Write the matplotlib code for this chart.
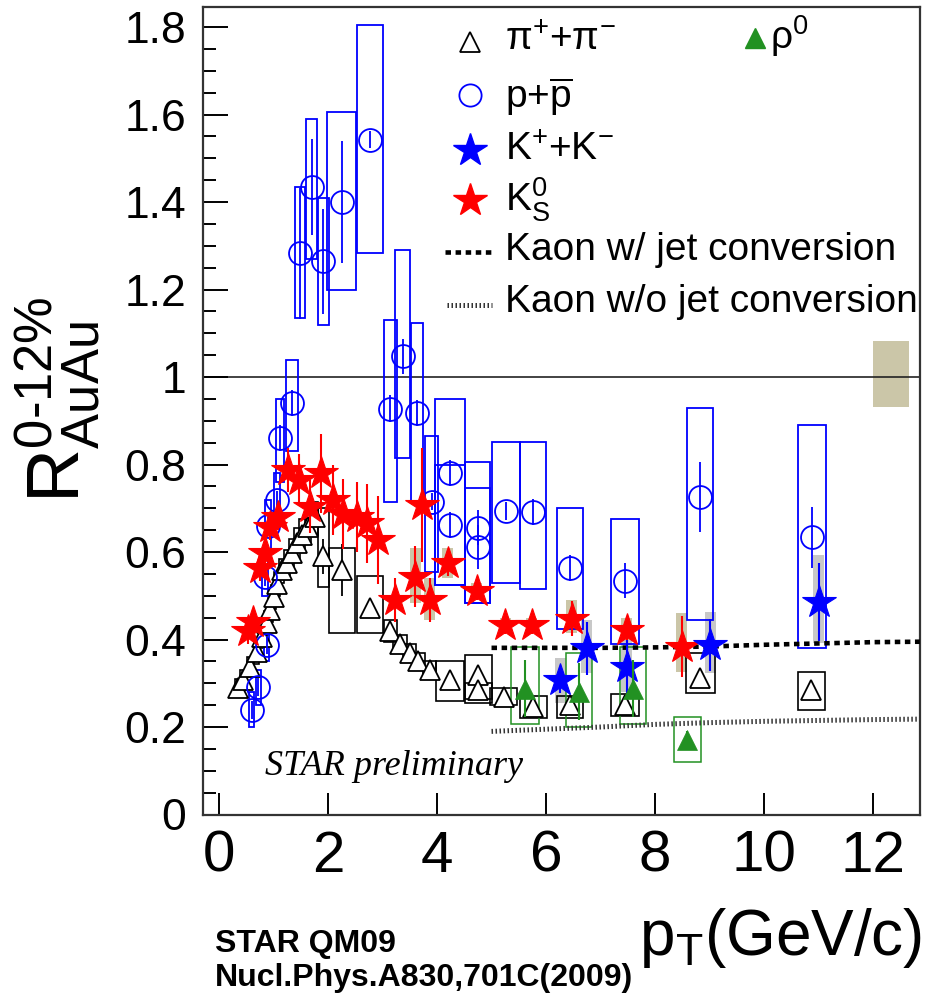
import matplotlib
matplotlib.use("Agg")
import matplotlib.pyplot as plt
import numpy as np
from matplotlib.patches import Rectangle
from matplotlib.ticker import MultipleLocator, FuncFormatter

plt.rcParams["font.family"] = ["Liberation Sans", "DejaVu Sans"]
plt.rcParams["mathtext.fontset"] = "custom"
plt.rcParams["mathtext.rm"] = "Liberation Sans"
plt.rcParams["mathtext.it"] = "Liberation Sans:italic"
plt.rcParams["mathtext.bf"] = "Liberation Sans:bold"

# ── Data ───────────────────────────────────────────────────────────────
# pi+ + pi-  (pT, R, stat err, sys low, sys high, sys half-width)
pi_pt = [0.35, 0.44, 0.57, 0.69, 0.78, 0.875, 0.94, 1.00, 1.06, 1.15, 1.25, 1.33,
         1.43, 1.52, 1.64, 1.76, 1.91, 2.25, 2.77, 3.14, 3.32, 3.50, 3.66, 3.87,
         4.24, 4.76, 4.76, 5.22, 5.77, 6.44, 7.45, 8.83, 10.87]
pi_r = [0.290, 0.307, 0.338, 0.372, 0.406, 0.437, 0.467, 0.498, 0.528, 0.559, 0.574, 0.597,
        0.620, 0.639, 0.658, 0.680, 0.590, 0.559, 0.471, 0.420, 0.390, 0.370, 0.350, 0.330,
        0.307, 0.319, 0.285, 0.269, 0.246, 0.250, 0.250, 0.311, 0.285]
pi_err = [0.01, 0.01, 0.01, 0.01, 0.01, 0.01, 0.01, 0.01, 0.01, 0.01, 0.01, 0.01,
          0.01, 0.01, 0.02, 0.02, 0.04, 0.06, 0.02, 0.01, 0.01, 0.01, 0.01, 0.01,
          0.01, 0.01, 0.01, 0.01, 0.01, 0.01, 0.01, 0.01, 0.01]
pi_lo = [0.27, 0.285, 0.315, 0.345, 0.380, 0.410, 0.440, 0.470, 0.500, 0.530, 0.545, 0.565,
         0.585, 0.605, 0.620, 0.640, 0.520, 0.415, 0.415, 0.395, 0.370, 0.350, 0.330, 0.310,
         0.260, 0.255, 0.265, 0.250, 0.220, 0.220, 0.225, 0.278, 0.239]
pi_hi = [0.31, 0.330, 0.360, 0.395, 0.430, 0.465, 0.495, 0.525, 0.555, 0.585, 0.605, 0.630,
         0.655, 0.675, 0.700, 0.715, 0.700, 0.610, 0.545, 0.445, 0.410, 0.390, 0.370, 0.350,
         0.350, 0.365, 0.300, 0.290, 0.270, 0.270, 0.275, 0.370, 0.326]
pi_hw = [0.05, 0.05, 0.05, 0.05, 0.05, 0.05, 0.05, 0.05, 0.05, 0.05, 0.05, 0.05,
         0.05, 0.05, 0.05, 0.05, 0.10, 0.24, 0.24, 0.12, 0.12, 0.12, 0.12, 0.12,
         0.25, 0.25, 0.25, 0.25, 0.24, 0.24, 0.25, 0.27, 0.25]

# p + pbar
p_pt = [0.60, 0.72, 0.84, 0.875, 0.90, 1.06, 1.12, 1.33, 1.49, 1.70, 1.91, 2.25, 2.77,
        3.14, 3.37, 3.63, 3.90, 4.24, 4.24, 4.75, 4.75, 5.27, 5.76, 6.44, 7.45, 8.82, 10.88]
p_r = [0.239, 0.292, 0.543, 0.387, 0.660, 0.720, 0.860, 0.940, 1.283, 1.435, 1.265, 1.400, 1.543,
       0.928, 1.048, 0.917, 0.715, 0.780, 0.662, 0.655, 0.612, 0.694, 0.692, 0.564, 0.534, 0.726, 0.634]
p_err = [0.02, 0.02, 0.02, 0.02, 0.02, 0.02, 0.03, 0.03, 0.15, 0.11, 0.12, 0.14, 0.02,
         0.03, 0.04, 0.03, 0.02, 0.03, 0.03, 0.04, 0.05, 0.02, 0.03, 0.03, 0.04, 0.08, 0.07]
p_lo = [0.20, 0.25, 0.50, 0.35, 0.60, 0.66, 0.76, 0.83, 1.134, 1.27, 1.12, 1.20, 1.283,
        0.714, 0.815, 0.712, 0.555, 0.525, 0.525, 0.483, 0.483, 0.53, 0.515, 0.423, 0.39, 0.445, 0.38]
p_hi = [0.28, 0.33, 0.59, 0.43, 0.72, 0.78, 0.95, 1.04, 1.434, 1.59, 1.41, 1.606, 1.805,
        1.13, 1.29, 1.124, 0.865, 0.95, 0.80, 0.805, 0.746, 0.852, 0.852, 0.701, 0.675, 0.93, 0.89]
p_hw = [0.05, 0.05, 0.05, 0.05, 0.05, 0.06, 0.08, 0.11, 0.09, 0.10, 0.10, 0.26, 0.245,
        0.12, 0.14, 0.11, 0.12, 0.27, 0.27, 0.23, 0.23, 0.26, 0.245, 0.245, 0.25, 0.24, 0.25]

# K0s
k0_pt = [0.54, 0.62, 0.75, 0.84, 0.94, 1.08, 1.27, 1.46, 1.67, 1.88, 2.10, 2.28, 2.53,
         2.71, 2.92, 3.23, 3.60, 3.72, 3.87, 4.20, 4.73, 5.25, 5.74, 6.47, 7.48, 8.49]
k0_r = [0.420, 0.440, 0.563, 0.597, 0.658, 0.680, 0.787, 0.765, 0.704, 0.780, 0.719, 0.688, 0.681,
        0.666, 0.627, 0.490, 0.544, 0.707, 0.490, 0.575, 0.510, 0.433, 0.433, 0.448, 0.422, 0.384]
k0_err = [0.03, 0.03, 0.03, 0.03, 0.03, 0.03, 0.05, 0.06, 0.06, 0.09, 0.08, 0.08, 0.08,
          0.09, 0.10, 0.05, 0.07, 0.13, 0.05, 0.03, 0.02, 0.02, 0.02, 0.04, 0.03, 0.07]
k0_lo = [0, 0, 0, 0, 0, 0, 0, 0, 0, 0, 0, 0, 0,
         0, 0, 0, 0.483, 0, 0.445, 0.54, 0.49, 0.42, 0.42, 0.415, 0.40, 0.326]
k0_hi = [0, 0, 0, 0, 0, 0, 0, 0, 0, 0, 0, 0, 0,
         0, 0, 0, 0.61, 0, 0.54, 0.61, 0.53, 0.45, 0.45, 0.49, 0.45, 0.46]

# K+ + K-
kc_pt = [6.26, 6.75, 7.48, 9.01, 11.0]
kc_r = [0.307, 0.380, 0.338, 0.387, 0.486]
kc_err = [0.03, 0.06, 0.06, 0.06, 0.09]
kc_lo = [0.255, 0.323, 0.280, 0.323, 0.392]
kc_hi = [0.358, 0.445, 0.400, 0.463, 0.593]

# rho0
rho_pt = [5.61, 6.61, 7.60, 8.59]
rho_r = [0.288, 0.281, 0.288, 0.170]
rho_err = [0.065, 0.065, 0.065, 0.02]
rho_lo = [0.208, 0.200, 0.208, 0.121]
rho_hi = [0.384, 0.369, 0.384, 0.222]
rho_hw = [0.26, 0.24, 0.24, 0.25]

# model curves
model_pt = [5.0, 6.0, 7.0, 8.0, 9.0, 10.0, 11.0, 12.0, 12.86]
jet_r = [0.381, 0.381, 0.381, 0.382, 0.384, 0.388, 0.391, 0.394, 0.395]
nojet_r = [0.190, 0.195, 0.200, 0.206, 0.210, 0.213, 0.215, 0.217, 0.218]

# normalisation uncertainty box
norm_pt, norm_hw, norm_lo, norm_hi = 12.33, 0.33, 0.931, 1.082

BLUE = "#0000ff"
RED = "#ff0000"
GREEN = "#229122"
TAN = "#cbc6a8"
GRAY = "#c8c8c8"

W, H = 933, 1002
fig = plt.figure(figsize=(W / 100, H / 100), dpi=100)
ax = fig.add_axes([203 / W, 1 - 814.5 / H, 717 / W, 807.5 / H])


def fx(px):
    return px / W


def fy(py):
    return 1 - py / H


def boxes(pts, lo, hi, hw, **kw):
    for x, a, b, w in zip(pts, lo, hi, hw):
        if b > a:
            ax.add_patch(Rectangle((x - w, a), 2 * w, b - a, **kw))


# sys boxes
boxes(pi_pt, pi_lo, pi_hi, pi_hw, fill=False, ec="black", lw=1.2, zorder=2)
boxes(p_pt, p_lo, p_hi, p_hw, fill=False, ec=BLUE, lw=1.3, zorder=2)
boxes(k0_pt, k0_lo, k0_hi, [0.1] * len(k0_pt), fc=TAN, ec="none", zorder=1)
boxes(kc_pt, kc_lo, kc_hi, [0.1] * len(kc_pt), fc=GRAY, ec="none", zorder=1)
boxes(rho_pt, rho_lo, rho_hi, rho_hw, fill=False, ec=GREEN, lw=1.1, zorder=2)
ax.add_patch(Rectangle((norm_pt - norm_hw, norm_lo), 2 * norm_hw, norm_hi - norm_lo,
                       fc=TAN, ec="none", zorder=1))

ax.axhline(1.0, color="#222222", lw=1.2, zorder=1.5)

# model curves
ax.plot(model_pt, jet_r, color="black", lw=3.3, ls=(0, (1.2, 1.0)), zorder=3)
ax.plot(model_pt, nojet_r, color="#333333", lw=3.6, ls=(0, (0.3, 0.5)), zorder=3)

# points
ax.errorbar(pi_pt, pi_r, yerr=pi_err, fmt="^", ms=15, mfc="white", mec="black", mew=1.3,
            ecolor="black", elinewidth=1.3, capsize=0, zorder=4)
ax.errorbar(p_pt, p_r, yerr=p_err, fmt="o", ms=16.5, mfc="none", mec=BLUE, mew=1.3,
            ecolor=BLUE, elinewidth=1.3, capsize=0, zorder=5)
ax.errorbar(k0_pt, k0_r, yerr=k0_err, fmt="*", ms=25, mfc=RED, mec=RED, mew=0.8,
            ecolor=RED, elinewidth=1.5, capsize=0, zorder=6)
ax.errorbar(kc_pt, kc_r, yerr=kc_err, fmt="*", ms=25, mfc=BLUE, mec=BLUE, mew=0.8,
            ecolor=BLUE, elinewidth=1.5, capsize=0, zorder=7)
ax.errorbar(rho_pt, rho_r, yerr=rho_err, fmt="^", ms=15, mfc=GREEN, mec=GREEN, mew=0.5,
            ecolor=GREEN, elinewidth=1.5, capsize=0, zorder=8)

# ── Axes ───────────────────────────────────────────────────────────────
ax.set_xlim(-0.294, 12.862)
ax.set_ylim(0, 1.846)
ax.xaxis.set_major_locator(MultipleLocator(2))
ax.yaxis.set_major_locator(MultipleLocator(0.2))
ax.yaxis.set_minor_locator(MultipleLocator(0.05))
ax.yaxis.set_major_formatter(FuncFormatter(lambda v, p: f"{v:g}"))
ax.tick_params(axis="y", which="major", direction="in", length=18, width=1.4,
               labelsize=32, pad=12, right=False)
ax.tick_params(axis="y", which="minor", direction="in", length=9.5, width=1.4, right=False)
ax.tick_params(axis="x", which="major", direction="in", length=16, width=1.4,
               labelsize=42, pad=11, top=False)
for s in ax.spines.values():
    s.set_linewidth(1.6)
    s.set_color("#333333")

# ── Legend (drawn by hand) ─────────────────────────────────────────────
lt = dict(fontsize=28, va="center", ha="left", transform=fig.transFigure)
ax.plot([fx(470)], [fy(42)], marker="^", ms=15, mfc="white", mec="black", mew=1.3,
        transform=fig.transFigure, clip_on=False)
fig.text(fx(505), fy(40), "π$^{+}$+π$^{-}$", **lt)
ax.plot([fx(470)], [fy(95)], marker="o", ms=16, mfc="none", mec=BLUE, mew=1.3,
        transform=fig.transFigure, clip_on=False)
fig.text(fx(505), fy(97), r"p+$\overline{\mathrm{p}}$", **lt)
ax.plot([fx(470)], [fy(150)], marker="*", ms=25, mfc=BLUE, mec=BLUE,
        transform=fig.transFigure, clip_on=False)
fig.text(fx(505), fy(150), "K$^{+}$+K$^{-}$", **lt)
ax.plot([fx(470)], [fy(200)], marker="*", ms=25, mfc=RED, mec=RED,
        transform=fig.transFigure, clip_on=False)
fig.text(fx(505), fy(200), r"K$^{\mathrm{0}}_{\mathrm{S}}$", **lt)
ax.plot([fx(445), fx(495)], [fy(252), fy(252)], color="black", lw=3.3, ls=(0, (1.2, 1.0)),
        transform=fig.transFigure, clip_on=False)
fig.text(fx(505), fy(250), "Kaon w/ jet conversion", **lt)
ax.plot([fx(447), fx(492)], [fy(305), fy(305)], color="#333333", lw=3.6, ls=(0, (0.3, 0.5)),
        transform=fig.transFigure, clip_on=False)
fig.text(fx(505), fy(302), "Kaon w/o jet conversion", **lt)
ax.plot([fx(755)], [fy(38)], marker="^", ms=15, mfc=GREEN, mec=GREEN,
        transform=fig.transFigure, clip_on=False)
fig.text(fx(770), fy(36), r"ρ$^{\mathrm{0}}$", **lt)

# ── Labels ─────────────────────────────────────────────────────────────
fig.text(fx(265), fy(775), "STAR preliminary", fontsize=26, fontstyle="italic",
         family="Liberation Serif", ha="left", va="baseline")
fig.text(fx(58), fy(400), r"$\mathrm{R}^{\text{0-12%}}_{\mathrm{AuAu}}$", fontsize=54,
         rotation=90, ha="center", va="center")
fig.text(fx(922), fy(955), r"p$_{\mathrm{T}}$(GeV/c)", fontsize=46, ha="right", va="baseline")
fig.text(fx(215), fy(952), "STAR QM09", fontsize=23, fontweight="bold",
         ha="left", va="baseline")
fig.text(fx(215), fy(986), "Nucl.Phys.A830,701C(2009)", fontsize=23, fontweight="bold",
         ha="left", va="baseline")

fig.savefig("out.png", dpi=100, facecolor="white")
